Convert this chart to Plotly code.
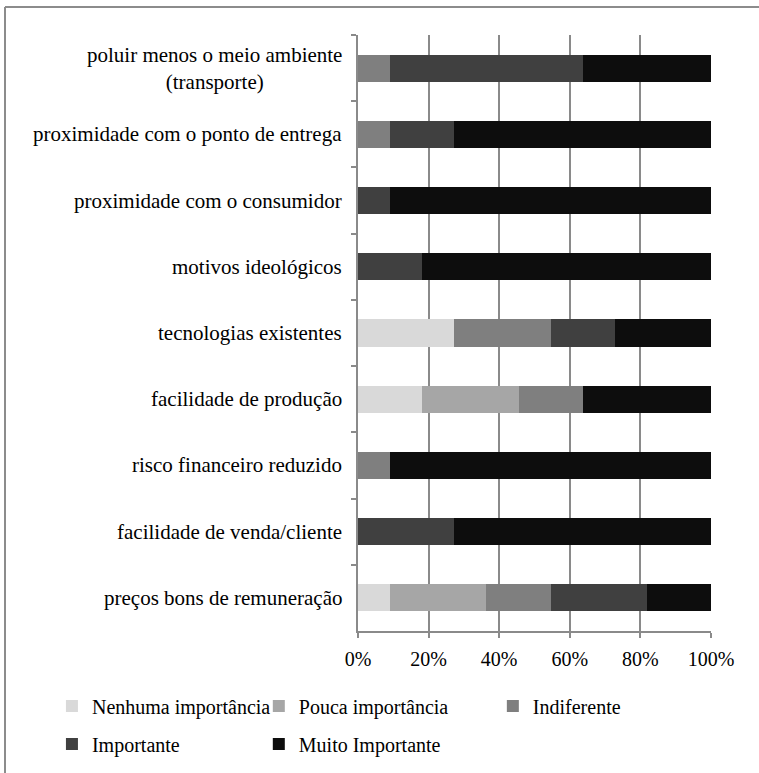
import plotly.graph_objects as go

# Survey items, listed top to bottom
categories = [
    "poluir menos o meio ambiente<br>(transporte)",
    "proximidade com o ponto de entrega",
    "proximidade com o consumidor",
    "motivos ideológicos",
    "tecnologias existentes",
    "facilidade de produção",
    "risco financeiro reduzido",
    "facilidade de venda/cliente",
    "preços bons de remuneração",
]

# Share of answers (%) per importance level
nenhuma = [0, 0, 0, 0, 27.3, 18.2, 0, 0, 9.1]
pouca = [0, 0, 0, 0, 0, 27.3, 0, 0, 27.3]
indiferente = [9.1, 9.1, 0, 0, 27.3, 18.2, 9.1, 0, 18.2]
importante = [54.5, 18.2, 9.1, 18.2, 18.2, 0, 0, 27.3, 27.3]
muito = [36.4, 72.7, 90.9, 81.8, 27.2, 36.4, 90.9, 72.7, 18.2]

x_ticks = [0, 20, 40, 60, 80, 100]
x_tick_labels = ["0%", "20%", "40%", "60%", "80%", "100%"]

FONT = "'Liberation Serif', 'Times New Roman', 'DejaVu Serif', serif"

series = [
    ("Nenhuma importância", nenhuma, "#d9d9d9", "legend"),
    ("Pouca importância", pouca, "#a6a6a6", "legend2"),
    ("Indiferente", indiferente, "#7f7f7f", "legend3"),
    ("Importante", importante, "#404040", "legend"),
    ("Muito Importante", muito, "#0d0d0d", "legend2"),
]

fig = go.Figure()
for name, vals, color, leg in series:
    fig.add_trace(go.Bar(
        y=categories, x=vals, name=name, orientation="h",
        marker=dict(color=color, line=dict(width=0)),
        legend=leg, legendgroup=name,
        hoverinfo="skip",
    ))

# Category labels as annotations so wrapped text stays centred
for cat in categories:
    fig.add_annotation(
        x=0, xref="paper", y=cat, yref="y",
        text=cat, showarrow=False, xanchor="right", align="center",
        xshift=-14, font=dict(family=FONT, size=21, color="#000000"),
    )

# Frame edges (left and top) around the chart area
frame = dict(color="#8c8c8c", width=2)
fig.add_shape(type="line", xref="paper", yref="paper",
              x0=-1.0, x1=-1.0, y0=-0.45, y1=1.047, line=frame)
fig.add_shape(type="line", xref="paper", yref="paper",
              x0=-1.0, x1=1.2, y0=1.047, y1=1.047, line=frame)

legend_common = dict(
    orientation="v", xanchor="left", yanchor="top", y=-0.093,
    font=dict(family=FONT, size=20, color="#000000"),
    bgcolor="rgba(0,0,0,0)", tracegroupgap=9, itemclick=False,
)

fig.update_layout(
    width=759, height=773,
    margin=dict(l=358, r=48, t=35, b=142, autoexpand=False),
    barmode="stack", bargap=0.59,
    plot_bgcolor="#ffffff", paper_bgcolor="#ffffff",
    font=dict(family=FONT, size=21, color="#000000"),
    showlegend=True,
    legend=dict(x=-0.867, **legend_common),
    legend2=dict(x=-0.281, **legend_common),
    legend3=dict(x=0.382, **legend_common),
    xaxis=dict(
        range=[0, 100], tickvals=x_ticks, ticktext=x_tick_labels,
        showgrid=True, gridcolor="#8a8a8a", gridwidth=1.5,
        showline=True, linecolor="#8a8a8a", linewidth=1.5,
        ticks="outside", ticklen=5, tickcolor="#8a8a8a", tickwidth=1.5,
        ticklabelstandoff=4, automargin=False,
        zeroline=False, fixedrange=True,
        tickfont=dict(family=FONT, size=20, color="#000000"),
    ),
    yaxis=dict(
        autorange="reversed", showticklabels=False, automargin=False,
        showline=True, linecolor="#8a8a8a", linewidth=1.5,
        ticks="outside", ticklen=5, tickcolor="#8a8a8a", tickwidth=1.5,
        tickson="boundaries", showgrid=False, fixedrange=True,
    ),
)

fig.write_html("out.html")
